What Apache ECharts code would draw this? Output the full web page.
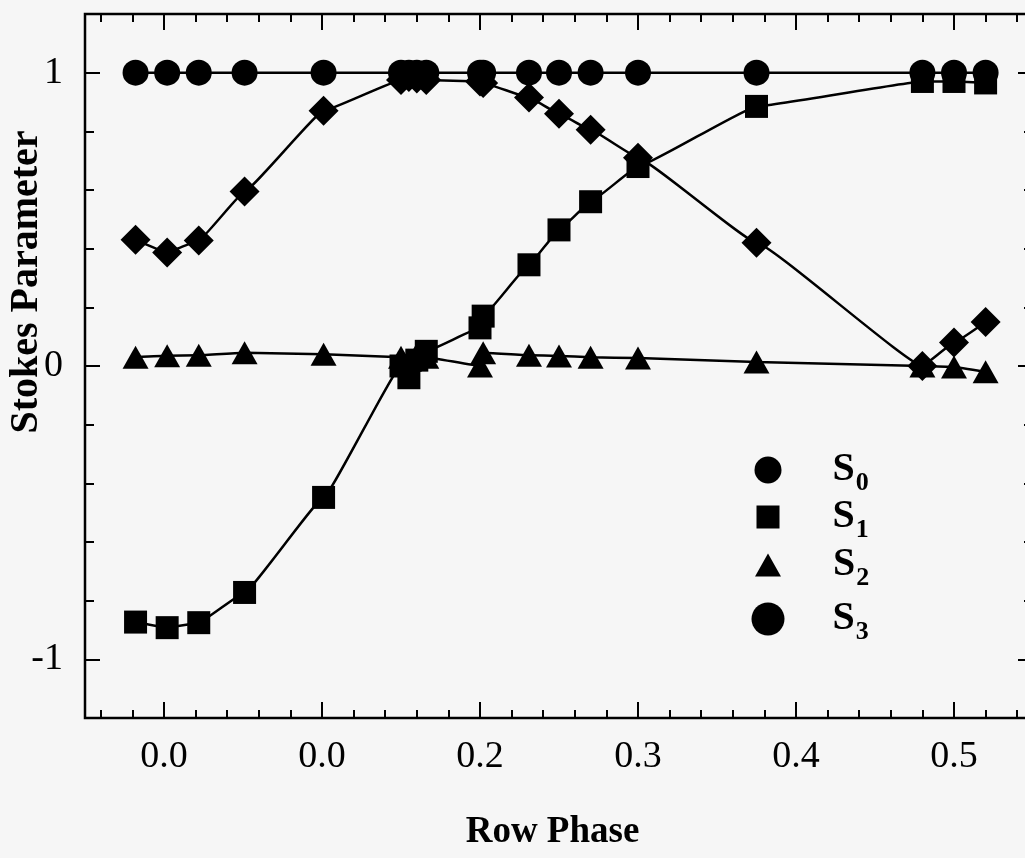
<!DOCTYPE html>
<html><head><meta charset="utf-8">
<script src="https://cdn.jsdelivr.net/npm/echarts@6/dist/echarts.min.js"></script>
<style>html,body{margin:0;padding:0;background:#f6f6f6}#c{width:1025px;height:858px}</style>
</head><body><div id="c"></div>
<script>
// ---- data ----
const phase = [-0.018, 0.002, 0.022, 0.051, 0.101, 0.150, 0.155, 0.160, 0.166, 0.200, 0.202, 0.231, 0.250, 0.270, 0.300, 0.375, 0.480, 0.500, 0.520];
const s0 = [1.0, 1.0, 1.0, 1.0, 1.0, 1.0, 1.0, 1.0, 1.0, 1.0, 1.0, 1.0, 1.0, 1.0, 1.0, 1.0, 1.0, 1.0, 1.0];
const s1 = [-0.873, -0.892, -0.875, -0.772, -0.448, 0.0, -0.04, 0.02, 0.05, 0.13, 0.17, 0.345, 0.464, 0.56, 0.68, 0.885, 0.97, 0.97, 0.965];
const s2 = [0.03, 0.035, 0.037, 0.045, 0.04, 0.03, 0.02, 0.04, 0.03, 0.0, 0.045, 0.037, 0.034, 0.03, 0.027, 0.014, 0.0, -0.003, -0.02];
const s3 = [0.43, 0.387, 0.428, 0.595, 0.87, 0.975, 0.985, 0.98, 0.975, 0.97, 0.965, 0.915, 0.86, 0.805, 0.71, 0.42, 0.0, 0.08, 0.15];
const seriesNames = ['S0', 'S1', 'S2', 'S3'];
const seriesSubs = ['0', '1', '2', '3'];

const xMajorTicks = [0, 0.1, 0.2, 0.3, 0.4, 0.5];
const xTickLabels = ['0.0', '0.0', '0.2', '0.3', '0.4', '0.5'];
const xMinorTicks = [-0.04, -0.02, 0.02, 0.04, 0.06, 0.08, 0.12, 0.14, 0.16, 0.18, 0.22, 0.24, 0.26, 0.28, 0.32, 0.34, 0.36, 0.38, 0.42, 0.44, 0.46, 0.48, 0.52, 0.54];
const yMajorTicks = [-1, 0, 1];
const yTickLabels = ['-1', '0', '1'];
const yMinorTicks = [-0.8, -0.6, -0.4, -0.2, 0.2, 0.4, 0.6, 0.8];

const SERIF = "'Liberation Serif', 'Times New Roman', serif";

const pairs = arr => phase.map((x, i) => [x, arr[i]]);

function xAx(pos, ticks, len, withLabels) {
  return {
    type: 'value', gridIndex: 0, position: pos, min: -0.05, max: 0.55,
    axisLine: { show: false, onZero: false }, splitLine: { show: false },
    axisTick: { show: true, inside: true, length: len, customValues: ticks, lineStyle: { color: '#000', width: 2 } },
    axisLabel: withLabels ? {
      show: true, customValues: xMajorTicks, margin: 20, color: '#000', fontFamily: SERIF, fontSize: 38,
      formatter: v => xTickLabels[Math.round(v * 10)]
    } : { show: false },
    name: withLabels ? 'Row Phase' : '',
    nameLocation: 'middle', nameGap: 96,
    nameTextStyle: { fontFamily: SERIF, fontSize: 37, fontWeight: 'bold', color: '#000', padding: [0, 13, 0, 0] }
  };
}
function yAx(pos, ticks, len, withLabels) {
  return {
    type: 'value', gridIndex: 0, position: pos, min: -1.2, max: 1.2,
    axisLine: { show: false, onZero: false }, splitLine: { show: false },
    axisTick: { show: true, inside: true, length: len, customValues: ticks, lineStyle: { color: '#000', width: 2 } },
    axisLabel: withLabels ? {
      show: true, customValues: yMajorTicks, margin: 22, color: '#000', fontFamily: SERIF, fontSize: 38,
      formatter: v => yTickLabels[yMajorTicks.indexOf(Math.round(v))]
    } : { show: false }
  };
}

function legendFor(i, icon, w, h, cy, pad) {
  return {
    show: true, selectedMode: false, orient: 'vertical', padding: 0, itemGap: 0,
    left: 768 - w / 2, top: cy - 26,
    itemWidth: w, itemHeight: h,
    data: [{ name: seriesNames[i], icon: icon }],
    itemStyle: { color: '#000', borderWidth: 0 },
    formatter: () => '{s|S}{n|' + seriesSubs[i] + '}',
    textStyle: {
      rich: {
        s: { fontFamily: SERIF, fontSize: 40, fontWeight: 'bold', color: '#000', padding: [0, 0, 0, pad] },
        n: { fontFamily: SERIF, fontSize: 26, fontWeight: 'bold', color: '#000', padding: [26, 0, 0, 1] }
      }
    }
  };
}

const lineSeries = (i, arr, symbol, size) => ({
  name: seriesNames[i], type: 'line', xAxisIndex: 0, yAxisIndex: 0,
  data: pairs(arr), symbol: symbol, symbolSize: size, showSymbol: true,
  smooth: 0.08, smoothMonotone: 'x',
  lineStyle: { color: '#000', width: 2.5 }, itemStyle: { color: '#000' },
  emphasis: { disabled: true }, animation: false
});

const chart = echarts.init(document.getElementById('c'), null, { renderer: 'canvas' });
chart.setOption({
  backgroundColor: '#f6f6f6',
  animation: false,
  grid: { left: 85, top: 14, right: -8, bottom: 140, show: true, borderColor: '#000', borderWidth: 2.5, backgroundColor: 'transparent', containLabel: false, outerBoundsMode: 'none' },
  xAxis: [
    xAx('bottom', xMajorTicks, 16, true),
    xAx('bottom', xMinorTicks, 8, false),
    xAx('top', xMajorTicks, 16, false),
    xAx('top', xMinorTicks, 8, false)
  ],
  yAxis: [
    yAx('left', yMajorTicks, 15, true),
    yAx('left', yMinorTicks, 9, false),
    yAx('right', yMajorTicks, 15, false),
    yAx('right', yMinorTicks, 9, false)
  ],
  legend: [
    legendFor(0, 'circle', 27, 27, 476, 46),
    legendFor(1, 'rect', 23, 23, 523, 48),
    legendFor(2, 'triangle', 26, 23, 571, 47),
    legendFor(3, 'circle', 33, 33, 625, 43)
  ],
  graphic: [{
    type: 'text', x: 27, y: 282, rotation: Math.PI / 2,
    style: { text: 'Stokes Parameter', font: "bold 40px 'Liberation Serif'", fill: '#000', align: 'center', verticalAlign: 'middle' }
  }],
  series: [
    lineSeries(3, s3, 'diamond', 30),
    lineSeries(2, s2, 'triangle', [26, 23]),
    lineSeries(1, s1, 'rect', 23),
    lineSeries(0, s0, 'circle', 26)
  ]
});
</script></body></html>
